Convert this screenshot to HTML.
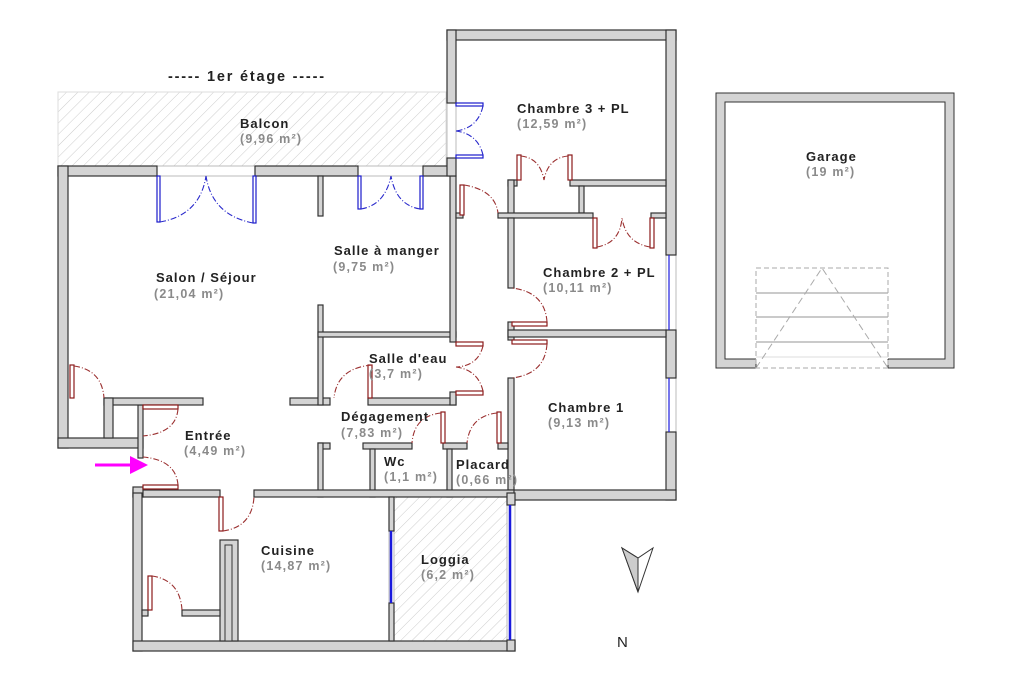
<!DOCTYPE html>
<html><head><meta charset="utf-8"><style>
html,body{margin:0;padding:0;background:#fff}
svg{display:block}
.w{fill:#d4d4d4;stroke:#333;stroke-width:1.2}
.t{font-family:"Liberation Sans",sans-serif;font-size:13px;font-weight:bold;fill:#222;letter-spacing:1px}
.a{font-family:"Liberation Sans",sans-serif;font-size:12.5px;font-weight:bold;fill:#8a8a8a;letter-spacing:1.2px}
.rd{fill:#fff;stroke:#8b1a1a;stroke-width:1.2}
.ra{fill:none;stroke:#9b3030;stroke-width:1.1;stroke-dasharray:6 2 1 2}
.bd{fill:#fff;stroke:#1a1acc;stroke-width:1.2}
.ba{fill:none;stroke:#2a2acc;stroke-width:1.1;stroke-dasharray:6 2 1 2}
.win{fill:#fff;stroke:#bbb;stroke-width:1}
</style></head><body>
<svg width="1024" height="690" viewBox="0 0 1024 690" xmlns="http://www.w3.org/2000/svg">
<defs>
<pattern id="h" width="8" height="8" patternUnits="userSpaceOnUse" patternTransform="rotate(45)">
<line x1="0" y1="0" x2="0" y2="8" stroke="#ccc" stroke-width="1"/>
</pattern>
</defs>
<text x="168" y="81" class="t" style="font-size:14.5px;letter-spacing:1.8px">----- 1er étage -----</text>
<rect x="58" y="92" width="388" height="74" fill="url(#h)" stroke="#ddd"/>
<rect x="394" y="497" width="113" height="144" fill="url(#h)"/>

<rect class="win" x="157" y="166" width="98" height="10"/>
<rect class="win" x="358" y="166" width="65" height="10"/>
<rect class="win" x="447" y="103" width="9" height="55"/>
<rect class="win" x="666" y="255" width="10" height="75"/>
<rect class="win" x="666" y="378" width="10" height="54"/>
<rect class="win" x="389" y="531" width="5" height="72"/>
<rect class="win" x="507" y="505" width="8" height="135"/>

<rect class="w" x="58" y="166" width="99" height="10"/>
<rect class="w" x="255" y="166" width="103" height="10"/>
<rect class="w" x="423" y="166" width="27" height="10"/>
<rect class="w" x="58" y="166" width="10" height="282"/>
<rect class="w" x="58" y="438" width="85" height="10"/>
<rect class="w" x="138" y="405" width="5" height="53"/>
<rect class="w" x="104" y="398" width="99" height="7"/>
<rect class="w" x="104" y="398" width="9" height="40"/>
<rect class="w" x="290" y="398" width="40" height="7"/>
<rect class="w" x="318" y="176" width="5" height="40"/>
<rect class="w" x="318" y="305" width="5" height="100"/>
<rect class="w" x="318" y="332" width="138" height="5"/>
<rect class="w" x="368" y="398" width="88" height="7"/>
<rect class="w" x="450" y="176" width="6" height="166"/>
<rect class="w" x="450" y="392" width="6" height="13"/>
<rect class="w" x="447" y="30" width="229" height="10"/>
<rect class="w" x="447" y="30" width="9" height="73"/>
<rect class="w" x="447" y="158" width="9" height="18"/>
<rect class="w" x="666" y="30" width="10" height="225"/>
<rect class="w" x="666" y="330" width="10" height="48"/>
<rect class="w" x="666" y="432" width="10" height="68"/>
<rect class="w" x="508" y="180" width="9" height="6"/>
<rect class="w" x="570" y="180" width="96" height="6"/>
<rect class="w" x="508" y="180" width="6" height="38"/>
<rect class="w" x="579" y="186" width="5" height="27"/>
<rect class="w" x="456" y="213" width="7" height="5"/>
<rect class="w" x="498" y="213" width="95" height="5"/>
<rect class="w" x="651" y="213" width="15" height="5"/>
<rect class="w" x="508" y="218" width="6" height="70"/>
<rect class="w" x="508" y="322" width="6" height="18"/>
<rect class="w" x="508" y="378" width="6" height="122"/>
<rect class="w" x="508" y="330" width="158" height="7"/>
<rect class="w" x="508" y="490" width="168" height="10"/>
<rect class="w" x="318" y="443" width="12" height="6"/>
<rect class="w" x="363" y="443" width="49" height="6"/>
<rect class="w" x="443" y="443" width="24" height="6"/>
<rect class="w" x="498" y="443" width="10" height="6"/>
<rect class="w" x="318" y="443" width="5" height="54"/>
<rect class="w" x="370" y="449" width="5" height="48"/>
<rect class="w" x="447" y="449" width="5" height="48"/>
<rect class="w" x="133" y="490" width="87" height="7"/>
<rect class="w" x="254" y="490" width="260" height="7"/>
<rect class="w" x="133" y="487" width="10" height="10"/>
<rect class="w" x="133" y="493" width="9" height="158"/>
<rect class="w" x="133" y="641" width="382" height="10"/>
<rect class="w" x="507" y="493" width="8" height="12"/>
<rect class="w" x="507" y="640" width="8" height="11"/>
<rect class="w" x="389" y="497" width="5" height="34"/>
<rect class="w" x="389" y="603" width="5" height="38"/>
<rect class="w" x="220" y="540" width="18" height="101"/>
<rect x="225" y="545" width="7" height="96" fill="#d4d4d4" stroke="#333"/>
<rect class="w" x="142" y="610" width="6" height="6"/>
<rect class="w" x="182" y="610" width="38" height="6"/>

<line x1="391" y1="531" x2="391" y2="603" stroke="#1a1add" stroke-width="2.5"/>
<line x1="510" y1="505" x2="510" y2="640" stroke="#1a1add" stroke-width="2.5"/>
<line x1="669" y1="255" x2="669" y2="330" stroke="#1a1add" stroke-width="1.2"/>
<line x1="669" y1="378" x2="669" y2="432" stroke="#1a1add" stroke-width="1.2"/>

<rect class="bd" x="157" y="176" width="3" height="46"/>
<rect class="bd" x="253" y="176" width="3" height="47"/>
<path class="ba" d="M160 222 Q200 215 206 176 M253 223 Q212 215 206 176"/>
<rect class="bd" x="358" y="176" width="3" height="33"/>
<rect class="bd" x="420" y="176" width="3" height="33"/>
<path class="ba" d="M361 209 Q385 205 391 176 M420 209 Q396 205 391 176"/>
<rect class="bd" x="456" y="103" width="27" height="3"/>
<rect class="bd" x="456" y="155" width="27" height="3"/>
<path class="ba" d="M483 106 Q478 128 456 131 M483 155 Q478 134 456 131"/>

<rect class="rd" x="70" y="365" width="4" height="33"/>
<path class="ra" d="M74 366 Q102 370 104 398"/>
<rect class="rd" x="143" y="405" width="35" height="4"/>
<path class="ra" d="M178 409 Q176 433 143 436"/>
<rect class="rd" x="143" y="485" width="35" height="4"/>
<path class="ra" d="M178 485 Q176 460 143 457"/>
<rect class="rd" x="368" y="365" width="4" height="33"/>
<path class="ra" d="M372 365 Q337 368 334 398"/>
<rect class="rd" x="456" y="342" width="27" height="4"/>
<rect class="rd" x="456" y="391" width="27" height="4"/>
<path class="ra" d="M483 346 Q478 366 456 367 M483 391 Q478 370 456 367"/>
<rect class="rd" x="441" y="412" width="4" height="31"/>
<path class="ra" d="M441 413 Q414 416 412 443"/>
<rect class="rd" x="497" y="412" width="4" height="31"/>
<path class="ra" d="M497 413 Q470 416 467 443"/>
<rect class="rd" x="460" y="185" width="4" height="30"/>
<path class="ra" d="M464 185 Q495 190 498 213"/>
<rect class="rd" x="517" y="155" width="4" height="25"/>
<rect class="rd" x="568" y="155" width="4" height="25"/>
<path class="ra" d="M521 156 Q540 158 544 180 M568 156 Q548 158 544 180"/>
<rect class="rd" x="593" y="218" width="4" height="30"/>
<rect class="rd" x="650" y="218" width="4" height="30"/>
<path class="ra" d="M597 247 Q620 243 622 218 M650 247 Q626 243 622 218"/>
<rect class="rd" x="512" y="322" width="35" height="4"/>
<path class="ra" d="M547 322 Q545 292 512 288"/>
<rect class="rd" x="512" y="340" width="35" height="4"/>
<path class="ra" d="M547 344 Q545 374 512 378"/>
<rect class="rd" x="219" y="497" width="4" height="34"/>
<path class="ra" d="M223 531 Q252 527 254 497"/>
<rect class="rd" x="148" y="576" width="4" height="34"/>
<path class="ra" d="M152 576 Q180 580 182 610"/>

<rect x="716" y="93" width="238" height="275" fill="#d4d4d4" stroke="#333"/>
<rect x="725" y="102" width="220" height="257" fill="#fff" stroke="#333"/>
<rect x="756" y="358" width="132" height="11" fill="#fff"/>
<line x1="716" y1="368" x2="756" y2="368" stroke="#333"/>
<line x1="888" y1="368" x2="954" y2="368" stroke="#333"/>
<line x1="756" y1="359" x2="756" y2="368" stroke="#333"/>
<line x1="888" y1="359" x2="888" y2="368" stroke="#333"/>
<rect x="756" y="268" width="132" height="100" fill="none" stroke="#aaa" stroke-dasharray="5 3"/>
<g stroke="#aaa" stroke-width="1.2"><line x1="756" y1="293" x2="888" y2="293"/><line x1="756" y1="317" x2="888" y2="317"/><line x1="756" y1="342" x2="888" y2="342"/></g>
<line x1="756" y1="357" x2="888" y2="357" stroke="#ddd"/>
<path d="M756 368 L822 268 L888 368" fill="none" stroke="#aaa" stroke-dasharray="7 4"/>

<path d="M622 548 L638 592 L653 548 L638 558 Z" fill="#fff" stroke="#333"/>
<path d="M622 548 L638 558 L638 592 Z" fill="#ccc" stroke="#333"/>
<text x="617" y="647" font-family="Liberation Sans,sans-serif" font-size="15" fill="#222">N</text>

<line x1="95" y1="465" x2="132" y2="465" stroke="#f0f" stroke-width="3"/>
<path d="M130 456 L148 465 L130 474 Z" fill="#f0f"/>

<text class="t" x="240" y="128">Balcon</text><text class="a" x="240" y="143">(9,96 m²)</text>
<text class="t" x="517" y="113">Chambre 3 + PL</text><text class="a" x="517" y="128">(12,59 m²)</text>
<text class="t" x="806" y="161">Garage</text><text class="a" x="806" y="176">(19 m²)</text>
<text class="t" x="334" y="255">Salle à manger</text><text class="a" x="333" y="271">(9,75 m²)</text>
<text class="t" x="543" y="277">Chambre 2 + PL</text><text class="a" x="543" y="292">(10,11 m²)</text>
<text class="t" x="156" y="282">Salon / Séjour</text><text class="a" x="154" y="298">(21,04 m²)</text>
<text class="t" x="369" y="363">Salle d'eau</text><text class="a" x="369" y="378">(3,7 m²)</text>
<text class="t" x="548" y="412">Chambre 1</text><text class="a" x="548" y="427">(9,13 m²)</text>
<text class="t" x="341" y="421">Dégagement</text><text class="a" x="341" y="437">(7,83 m²)</text>
<text class="t" x="185" y="440">Entrée</text><text class="a" x="184" y="455">(4,49 m²)</text>
<text class="t" x="384" y="466">Wc</text><text class="a" x="384" y="481">(1,1 m²)</text>
<text class="t" x="456" y="469">Placard</text><text class="a" x="456" y="484">(0,66 m²)</text>
<text class="t" x="261" y="555">Cuisine</text><text class="a" x="261" y="570">(14,87 m²)</text>
<text class="t" x="421" y="564">Loggia</text><text class="a" x="421" y="579">(6,2 m²)</text>
</svg>
</body></html>
